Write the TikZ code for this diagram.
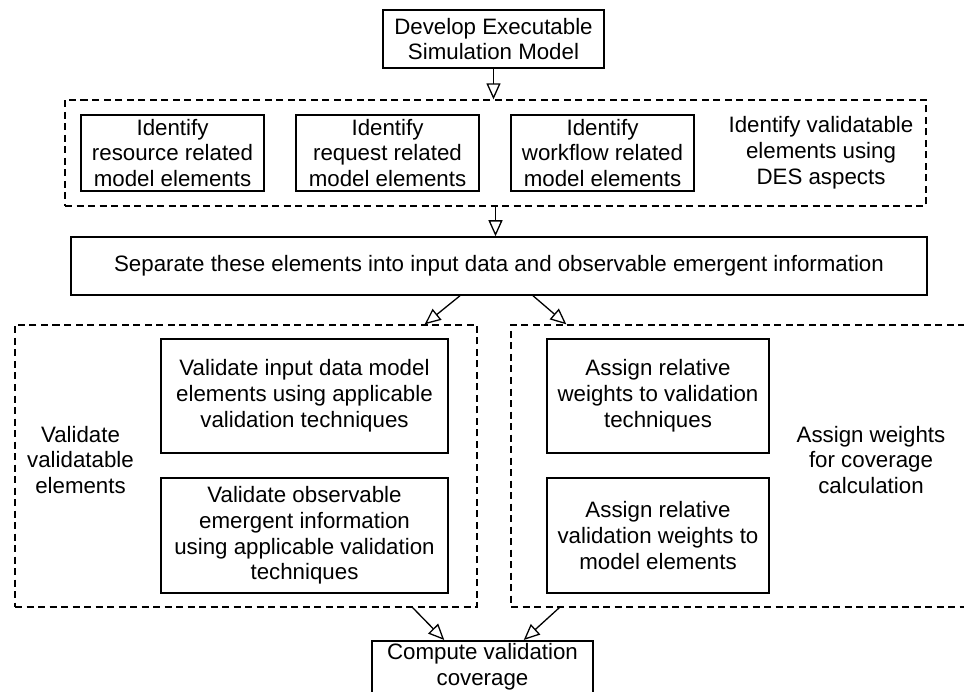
\documentclass[tikz,border=0pt]{standalone}
\usepackage{fontspec}
\setmainfont{Liberation Sans}
\usetikzlibrary{arrows.meta,calc}
\begin{document}
\begin{tikzpicture}[x=1pt,y=-1pt,
  every node/.style={font=\fontsize{22.3}{25.8}\selectfont, align=center, inner sep=0pt},
  box/.style={draw, line width=1.5pt},
  grp/.style={draw, line width=1.3pt, dash pattern=on 7pt off 4.5pt},
  arr/.style={line width=1.3pt, -{Triangle[open, length=16pt, width=14pt, line width=1.3pt]}}
]
\useasboundingbox (0,0) rectangle (964,692);
\clip (0,0) rectangle (964,692);
% top
\node[box, minimum width=221, minimum height=58] (top) at (493.5,39) {Develop Executable\\Simulation Model};
% group 1
\node[grp, minimum width=861, minimum height=106] (grp1) at (495.5,153) {};
\node[box, minimum width=183, minimum height=76] (ba) at (172.5,153) {Identify\\resource related\\model elements};
\node[box, minimum width=183, minimum height=76] (bb) at (387.5,153) {Identify\\request related\\model elements};
\node[box, minimum width=183, minimum height=76] (bc) at (602.5,153) {Identify\\workflow related\\model elements};
\node (l1) at (821,153) {Identify validatable\\elements using\\DES aspects};
% separate
\node[box, minimum width=856, minimum height=58] (sep) at (499,266) {Separate these elements into input data and observable emergent information};
% lower groups
\node[grp, minimum width=462, minimum height=282] (gl) at (246,466) {};
\node[grp, minimum width=500, minimum height=282] (gr) at (761,466) {};
\node[box, minimum width=287, minimum height=114] (l1b) at (304.5,396) {Validate input data model\\elements using applicable\\validation techniques};
\node[box, minimum width=287, minimum height=115] (l2b) at (304.5,535.5) {Validate observable\\emergent information\\using applicable validation\\techniques};
\node (ll) at (80.5,460) {Validate\\validatable\\elements};
\node[box, minimum width=222, minimum height=114] (r1b) at (658,396) {Assign relative\\weights to validation\\techniques};
\node[box, minimum width=222, minimum height=115] (r2b) at (658,535.5) {Assign relative\\validation weights to\\model elements};
\node (rl) at (871,460) {Assign weights\\for coverage\\calculation};
% compute
\node[box, minimum width=221, minimum height=70, anchor=north] (cb) at (482.5,640) {};
\node (cbt) at ($(cb.north)+(0,27)$) {Compute validation\\coverage};
% arrows
\draw[arr] (top.south) -- (top.south |- grp1.north);
\draw[arr] (grp1.south) -- (grp1.south |- sep.north);
\draw[arr] ($(sep.south)+(-39,0)$) -- ($(gl.north east)+(-53,0)$);
\draw[arr] ($(sep.south)+(34,0)$) -- ($(gr.north west)+(56,0)$);
\draw[arr] ($(gl.south east)+(-65,0)$) -- ($(cb.north west)+(73,0)$);
\draw[arr] ($(gr.south west)+(49,0)$) -- ($(cb.north east)+(-70,0)$);
\end{tikzpicture}
\end{document}
